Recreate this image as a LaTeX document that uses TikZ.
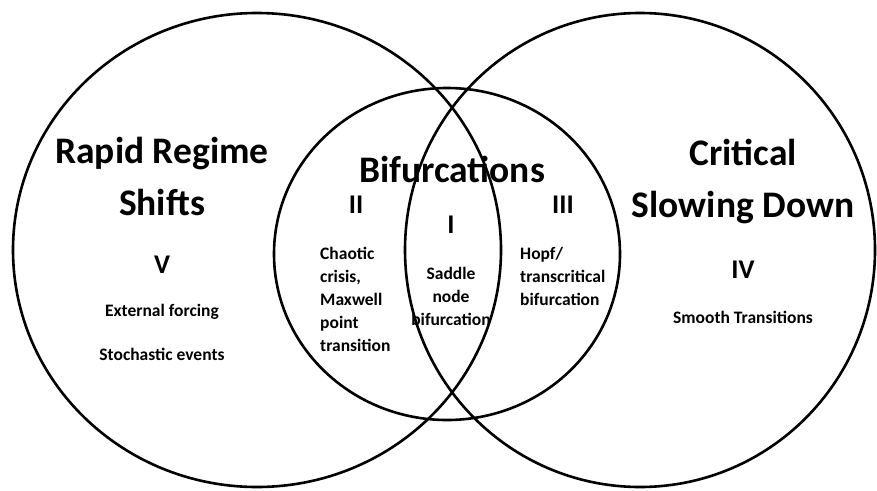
\documentclass[tikz,border=0pt]{standalone}
\usepackage{fontspec}
\setmainfont{Carlito}
\usepackage{tikz}
\usetikzlibrary{positioning}

\tikzset{
    ring/.style={line width=2.6pt, black},
    heading/.style={font=\fontsize{37.5}{52}\selectfont\bfseries, align=center, inner sep=0pt},
    numeral/.style={font=\fontsize{27}{30}\selectfont\bfseries, inner sep=0pt},
    remark/.style={font=\fontsize{17.5}{23}\selectfont\bfseries, inner sep=0pt}
}

\begin{document}
\begin{tikzpicture}[x=1pt, y=-1pt]
    \useasboundingbox (0,0) rectangle (877,490);

    % three sets
    \draw[ring] (257,250) ellipse [x radius=244, y radius=237];
    \draw[ring] (640,250) ellipse [x radius=235, y radius=237];
    \draw[ring] (447,254) ellipse [x radius=173, y radius=166];

    % left set
    \node[heading] (rapid) at (162,176) {Rapid Regime\\Shifts};
    \node[numeral] (five) at (162,265) {V};
    \node[remark] (forcing) at (162,312) {External forcing};
    \node[remark] (stoch) at (162,354) {Stochastic events};

    % right set
    \node[heading] (slow) at (743,181) {Critical\\Slowing Down};
    \node[numeral] (four) at (743,270) {IV};
    \node[remark] (smooth) at (743,317) {Smooth Transitions};

    % middle set
    \node[heading] (bif) at (452,169) {Bifurcations};
    \node[numeral] (two) at (356,205) {II};
    \node[numeral] (three) at (563,205) {III};
    \node[numeral] (one) at (451,225) {I};
    \node[remark, align=left, anchor=west] (chaos) at (320,299) {Chaotic\\crisis,\\Maxwell\\point\\transition};
    \node[remark, align=center] (saddle) at (451,296) {Saddle\\node\\bifurcation};
    \node[remark, align=left, anchor=west] (hopf) at (520,276) {Hopf/\\transcritical\\bifurcation};
\end{tikzpicture}
\end{document}
